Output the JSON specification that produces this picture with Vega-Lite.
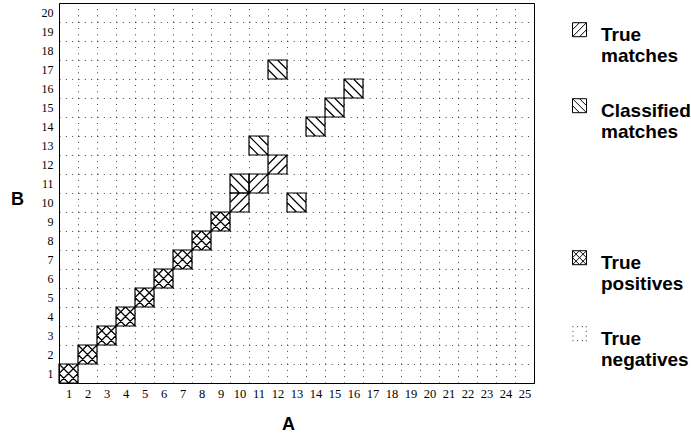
{
  "$schema": "https://vega.github.io/schema/vega-lite/v6.json",
  "autosize": "none",
  "width": 475,
  "height": 380,
  "padding": {"left": 59, "top": 3, "right": 157, "bottom": 53},
  "background": "white",
  "data": {
    "values": [
      {"a": 1, "b": 1, "type": "True positives"},
      {"a": 2, "b": 2, "type": "True positives"},
      {"a": 3, "b": 3, "type": "True positives"},
      {"a": 4, "b": 4, "type": "True positives"},
      {"a": 5, "b": 5, "type": "True positives"},
      {"a": 6, "b": 6, "type": "True positives"},
      {"a": 7, "b": 7, "type": "True positives"},
      {"a": 8, "b": 8, "type": "True positives"},
      {"a": 9, "b": 9, "type": "True positives"},
      {"a": 10, "b": 10, "type": "True matches"},
      {"a": 11, "b": 11, "type": "True matches"},
      {"a": 12, "b": 12, "type": "True matches"},
      {"a": 10, "b": 11, "type": "Classified matches"},
      {"a": 11, "b": 13, "type": "Classified matches"},
      {"a": 12, "b": 17, "type": "Classified matches"},
      {"a": 13, "b": 10, "type": "Classified matches"},
      {"a": 14, "b": 14, "type": "Classified matches"},
      {"a": 15, "b": 15, "type": "Classified matches"},
      {"a": 16, "b": 16, "type": "Classified matches"}
    ]
  },
  "mark": {"type": "point", "filled": false, "color": "black", "strokeWidth": 1.2, "opacity": 1, "size": 361, "yOffset": -5.7},
  "encoding": {
    "x": {
      "field": "a", "type": "ordinal",
      "scale": {"domain": [1,2,3,4,5,6,7,8,9,10,11,12,13,14,15,16,17,18,19,20,21,22,23,24,25], "paddingInner": 0, "paddingOuter": 0},
      "axis": {
        "title": "A", "labelAngle": 0, "labelFont": "Liberation Serif", "labelFontSize": 12.5, "labelColor": "black",
        "labelPadding": 4, "ticks": false, "domain": false, "grid": true, "tickBand": "extent",
        "gridColor": "#000", "gridOpacity": 0.75, "gridDash": [1, 5.33], "gridWidth": 1,
        "titleFont": "Liberation Sans", "titleFontSize": 18, "titleFontWeight": "bold", "titleColor": "black",
        "titleX": 229, "titleY": 41, "titleBaseline": "middle", "titleAlign": "center"
      }
    },
    "y": {
      "field": "b", "type": "ordinal", "sort": null,
      "scale": {"domain": [20,19,18,17,16,15,14,13,12,11,10,9,8,7,6,5,4,3,2,1], "paddingInner": 0, "paddingOuter": 0},
      "axis": {
        "title": "B", "labelFont": "Liberation Serif", "labelFontSize": 12, "labelColor": "black",
        "labelPadding": 6, "ticks": false, "domain": false, "grid": true, "tickBand": "extent",
        "gridColor": "#000", "gridOpacity": 0.75, "gridDash": [1, 5.33], "gridWidth": 1,
        "titleFont": "Liberation Sans", "titleFontSize": 18, "titleFontWeight": "bold", "titleColor": "black",
        "titleAngle": 0, "titleX": -42, "titleY": 196, "titleBaseline": "middle", "titleAlign": "center"
      }
    },
    "shape": {
      "field": "type", "type": "nominal",
      "scale": {
        "domain": ["True matches", "Classified matches", "blank", "True positives", "True negatives"],
        "range": [
          "M-1,-0.4H1V1.6H-1ZM-1,1.6L1,-0.4M-1,0.6L0,-0.4M0,1.6L1,0.6",
          "M-1,-0.4H1V1.6H-1ZM-1,-0.4L1,1.6M0,-0.4L1,0.6M-1,0.6L0,1.6",
          "M0,0L0,0",
          "M-1,-0.4H1V1.6H-1ZM-1,1.6L1,-0.4M-1,0.6L0,-0.4M0,1.6L1,0.6M-1,-0.4L1,1.6M0,-0.4L1,0.6M-1,0.6L0,1.6",
          "M-1,-0.4h0.12M-0.33,-0.4h0.12M0.33,-0.4h0.12M0.9,-0.4h0.12M-1,0.27h0.12M0.9,0.27h0.12M-1,0.93h0.12M0.9,0.93h0.12M-1,1.6h0.12M-0.33,1.6h0.12M0.33,1.6h0.12M0.9,1.6h0.12"
        ]
      },
      "legend": {
        "orient": "none", "legendX": 511, "legendY": 13, "title": null,
        "symbolSize": 196, "symbolStrokeWidth": 1, "symbolStrokeColor": "black", "symbolFillColor": "transparent", "symbolOpacity": 1,
        "labelFont": "Liberation Sans", "labelFontSize": 19, "labelFontWeight": "bold", "labelColor": "black",
        "labelOffset": 12, "labelBaseline": "top", "rowPadding": 26, "labelLimit": 200,
        "labelExpr": "datum.label == 'blank' ? [' ', ' '] : split(datum.label, ' ')"
      }
    }
  },
  "config": {
    "view": {"stroke": "black", "strokeWidth": 1},
    "style": {"guide-label": {"lineHeight": 21}}
  }
}
